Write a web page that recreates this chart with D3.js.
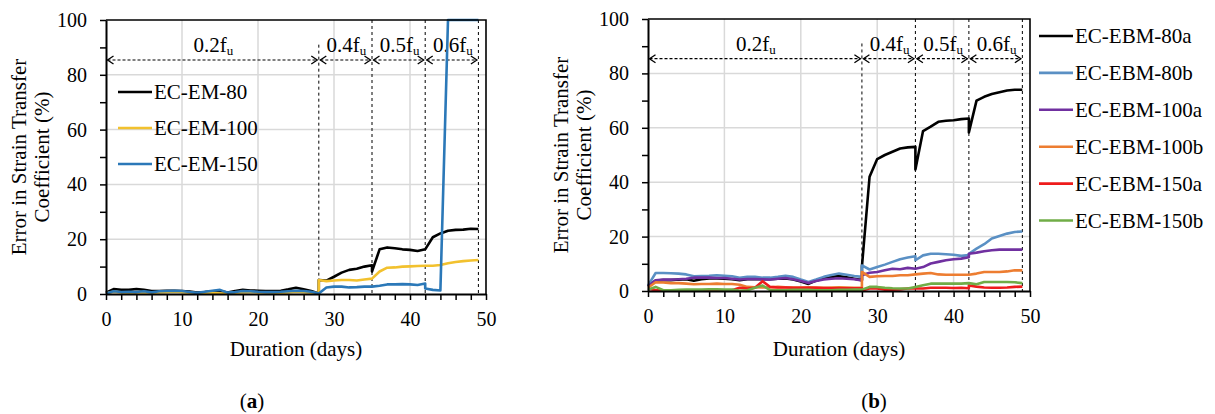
<!DOCTYPE html>
<html lang="en">
<head>
<meta charset="UTF-8">
<title>Error in Strain Transfer Coefficient</title>
<script src="https://d3js.org/d3.v7.min.js"></script>
</head>
<body style="margin:0; background:#fff">
<svg width="1215" height="414"></svg>
<script>
// days of each reading; 28, 35 and 42 appear twice for the jump at each new load step
const days = [0,1,2,3,4,5,6,7,8,9,10,11,12,13,14,15,16,17,18,19,20,21,22,23,24,25,26,27,
  28,28,29,30,31,32,33,34,35,35,36,37,38,39,40,41,42,42,43,44,45,46,47,48,49];

const xTicks = [0, 10, 20, 30, 40, 50];
const yTicks = [0, 20, 40, 60, 80, 100];

// load steps
const stageLabels = ["0.2", "0.4", "0.5", "0.6"];
const stageBounds = [0, 28, 35, 42, 49];

// panel (a)
const namesA = ["EC-EM-80", "EC-EM-100", "EC-EM-150"];
const em80 = [0.5,1.8,1.5,1.5,1.8,1.5,1.1,1.1,1.2,1.2,1.1,0.9,0.5,0.7,1.0,1.1,0.5,1.1,1.5,1.3,1.2,1.1,1.1,1.2,1.7,2.3,1.7,1.1,
  0.2,5.1,4.9,6.3,7.8,8.8,9.2,10.0,10.5,8.2,16.3,17.0,16.7,16.3,16.1,15.7,16.3,16.3,20.7,22.1,23.1,23.4,23.5,23.8,23.7];
const em100 = [0.3,0.8,0.6,0.5,0.6,0.7,0.5,0.6,0.7,0.8,0.7,0.5,0.3,0.3,0.4,0.2,0.3,0.5,0.6,0.7,0.6,0.6,0.5,0.5,0.6,0.8,0.7,0.5,
  0.3,5.1,4.7,4.9,5.1,5.1,4.9,5.3,5.6,5.6,8.2,9.6,9.7,10.0,10.1,10.2,10.3,10.3,10.3,10.6,11.2,11.7,12.0,12.2,12.4];
const em150 = [0.2,1.0,0.7,0.8,0.7,1.0,0.6,1.0,1.1,1.2,1.1,0.7,0.4,0.8,1.2,1.5,0.5,0.7,1.1,1.0,0.8,0.7,0.7,0.8,1.0,1.2,1.1,0.8,
  0.2,0.2,2.4,2.7,2.7,2.4,2.5,2.7,2.7,2.7,3.0,3.5,3.5,3.6,3.5,3.3,3.8,2.0,1.5,1.3,100,100,100,100,100];

// panel (b)
const namesB = ["EC-EBM-80a", "EC-EBM-80b", "EC-EBM-100a", "EC-EBM-100b", "EC-EBM-150a", "EC-EBM-150b"];
const ebm80a = [1.7,3.8,4.0,4.0,4.2,4.3,3.8,4.3,4.6,4.6,4.5,4.3,4.0,4.3,4.4,4.3,4.3,4.5,4.6,4.2,3.5,2.6,3.8,4.6,5.2,5.5,5.0,4.5,
  4.0,9.0,42.0,48.5,50.0,51.2,52.4,52.8,53.0,44.7,58.8,60.4,62.2,62.6,62.8,63.2,63.4,58.3,70.0,71.4,72.4,73.1,73.7,74.0,74.0];
const ebm80b = [2.0,6.6,6.6,6.5,6.4,6.1,5.4,5.5,5.6,5.8,5.6,5.4,4.9,5.2,5.2,4.9,4.9,5.2,5.6,5.2,4.2,3.3,4.2,5.2,5.9,6.4,6.0,5.5,
  5.2,9.4,7.9,8.8,9.7,10.7,11.7,12.3,12.8,11.3,13.1,13.7,13.7,13.5,13.3,12.9,13.2,13.7,15.6,17.2,19.3,20.2,21.1,21.7,21.9];
const ebm100a = [1.7,3.9,4.2,4.2,4.3,4.5,4.9,4.9,4.9,4.8,4.8,4.5,4.2,4.4,4.4,4.3,4.2,4.5,4.8,4.3,3.7,2.9,3.7,4.2,4.5,4.7,4.5,4.3,
  3.9,5.8,6.7,7.0,7.6,8.2,8.0,8.5,8.2,8.2,8.8,10.1,10.7,11.3,11.7,11.9,12.4,13.7,14.1,14.6,15.0,15.2,15.2,15.2,15.2];
const ebm100b = [1.2,3.2,3.1,2.9,2.9,2.7,2.5,2.6,2.6,2.7,2.6,2.6,2.3,1.5,1.4,1.3,1.4,1.5,1.4,1.3,1.3,1.4,1.3,1.2,1.3,1.4,1.3,1.2,
  1.2,7.0,5.2,5.4,5.5,5.5,5.8,5.8,6.1,6.1,6.4,6.6,6.1,6.0,6.0,6.0,6.0,6.0,6.4,7.0,7.0,7.0,7.2,7.6,7.6];
const ebm150a = [0.8,0.3,0.3,0.2,0.2,0.2,0.2,0.2,0.2,0.2,0.2,0.3,1.2,0.9,1.2,3.6,1.5,1.3,1.3,1.2,1.2,1.2,1.2,1.1,1.0,1.0,1.0,1.0,
  1.0,0.2,0.9,0.9,0.5,0.5,0.6,0.9,0.9,0.9,0.9,1.2,1.2,1.2,1.1,1.2,1.0,2.0,1.6,1.3,1.2,1.2,1.3,1.5,1.6];
const ebm150b = [0.5,1.5,0.3,0.3,0.4,0.5,0.5,0.5,0.6,0.6,0.5,0.5,0.1,0.3,1.2,2.0,0.3,0.3,0.3,0.4,0.4,0.4,0.3,0.3,0.3,0.4,0.4,0.5,
  0.5,0.5,1.5,1.5,1.2,1.0,0.9,0.9,1.5,1.5,2.1,2.7,2.7,2.7,2.7,2.7,2.9,2.9,2.5,3.3,3.3,3.3,3.3,3.2,2.9];

const FONT = "Liberation Serif";
const svg = d3.select("svg").attr("font-family", FONT);

// open chevron arrow head
svg.append("defs").append("marker")
  .attr("id", "chev")
  .attr("markerUnits", "userSpaceOnUse")
  .attr("markerWidth", 10).attr("markerHeight", 10)
  .attr("refX", 7).attr("refY", 5)
  .attr("orient", "auto-start-reverse")
  .append("path")
  .attr("d", "M1,1 L7,5 L1,9")
  .attr("fill", "none").attr("stroke", "#000").attr("stroke-width", 1.3);

function drawPanel(box, names, colors, series, legend, tag) {
  const x = d3.scaleLinear().domain([0, 50]).range([box.left, box.right]);
  const y = d3.scaleLinear().domain([0, 100]).range([box.bottom, box.top]);
  const g = svg.append("g").attr("font-family", FONT);

  // gridlines
  g.append("g").selectAll("line").data(xTicks.slice(1, -1)).join("line")
    .attr("x1", d => x(d)).attr("x2", d => x(d))
    .attr("y1", y(0)).attr("y2", y(100))
    .attr("stroke", "#d9d9d9").attr("stroke-width", 1.5);
  g.append("g").selectAll("line").data(yTicks.slice(1, -1)).join("line")
    .attr("x1", x(0)).attr("x2", x(50))
    .attr("y1", d => y(d)).attr("y2", d => y(d))
    .attr("stroke", "#d9d9d9").attr("stroke-width", 1.5);

  // load step boundaries
  g.append("g").selectAll("line").data(stageBounds.slice(1)).join("line")
    .attr("x1", d => x(d)).attr("x2", d => x(d))
    .attr("y1", (d, i) => y(i === 0 ? 91 : 100)).attr("y2", y(0))
    .attr("stroke", "#000").attr("stroke-width", 1).attr("stroke-dasharray", "3,3");

  // double arrows with stage labels
  const arrows = g.append("g");
  stageLabels.forEach((lab, i) => {
    const a = stageBounds[i], b = stageBounds[i + 1];
    arrows.append("line")
      .attr("x1", x(a) + 1.5).attr("x2", x(b) - 1.5)
      .attr("y1", y(85.4)).attr("y2", y(85.4))
      .attr("stroke", "#000").attr("stroke-width", 1.2).attr("stroke-dasharray", "3,2")
      .attr("marker-start", "url(#chev)").attr("marker-end", "url(#chev)");
    const t = arrows.append("text")
      .attr("x", x((a + b) / 2) + 1).attr("y", y(88.3))
      .attr("text-anchor", "middle").attr("font-size", 21);
    t.append("tspan").text(lab + "f");
    t.append("tspan").attr("dy", 3).attr("font-size", 13).text("u");
  });

  // series
  const line = d3.line().x((d, i) => x(days[i])).y(d => y(d));
  series.forEach((s, k) => {
    g.append("path").datum(s).attr("d", line)
      .attr("fill", "none").attr("stroke", colors[k])
      .attr("stroke-width", 2.6).attr("stroke-linejoin", "round");
  });

  // axes
  const ya = g.append("g").attr("transform", `translate(${x(0)},0)`)
    .call(d3.axisLeft(y).tickValues(d3.range(0, 101, 10))
      .tickSize(6).tickSizeOuter(0).tickPadding(13)
      .tickFormat(d => d % 20 ? "" : d));
  const xa = g.append("g").attr("transform", `translate(0,${y(0)})`)
    .call(d3.axisBottom(x).tickValues(d3.range(0, 51, 2))
      .tickSize(6).tickSizeOuter(0).tickPadding(12)
      .tickFormat(d => d % 10 ? "" : d));
  [ya, xa].forEach(a => {
    a.attr("font-family", FONT).attr("font-size", 20);
    a.select(".domain").attr("stroke", "#000").attr("stroke-width", 2);
    a.selectAll(".tick line").attr("stroke", "#000").attr("stroke-width", 1.5);
    a.selectAll(".tick text").attr("fill", "#000");
  });

  // plot border top and right
  g.append("path")
    .attr("d", `M${x(0)},${y(100)}H${x(50)}V${y(0)}`)
    .attr("fill", "none").attr("stroke", "#000").attr("stroke-width", 1.6);

  // axis titles
  const cy = (box.top + box.bottom) / 2;
  g.append("text")
    .attr("transform", `translate(${x(0) - 80},${cy}) rotate(-90)`)
    .attr("text-anchor", "middle").attr("font-size", 21)
    .text("Error in Strain Transfer");
  g.append("text")
    .attr("transform", `translate(${x(0) - 57},${cy}) rotate(-90)`)
    .attr("text-anchor", "middle").attr("font-size", 21)
    .text("Coefficient (%)");
  g.append("text")
    .attr("x", (box.left + box.right) / 2).attr("y", 356)
    .attr("text-anchor", "middle").attr("font-size", 21)
    .text("Duration (days)");

  // panel tag
  const pt = g.append("text")
    .attr("x", tag.x).attr("y", 408)
    .attr("text-anchor", "middle").attr("font-size", 21);
  pt.append("tspan").text("(");
  pt.append("tspan").attr("font-weight", "bold").text(tag.label);
  pt.append("tspan").text(")");

  // legend
  const lg = g.append("g");
  names.forEach((n, i) => {
    const ly = legend.y + i * legend.dy;
    lg.append("line")
      .attr("x1", legend.x).attr("x2", legend.x + 34)
      .attr("y1", ly).attr("y2", ly)
      .attr("stroke", colors[i]).attr("stroke-width", 2.6);
    lg.append("text")
      .attr("x", legend.x + 36).attr("y", ly + 7)
      .attr("font-size", 21).text(n);
  });
}

drawPanel(
  { left: 106, right: 486, top: 20, bottom: 294 },
  namesA,
  ["#000000", "#f2c12e", "#2b78b8"],
  [em80, em100, em150],
  { x: 118, y: 92, dy: 36 },
  { x: 252, label: "a" }
);

drawPanel(
  { left: 648, right: 1030, top: 19, bottom: 291 },
  namesB,
  ["#000000", "#5a90c4", "#7030a0", "#ed7d31", "#ee1c1c", "#70ad47"],
  [ebm80a, ebm80b, ebm100a, ebm100b, ebm150a, ebm150b],
  { x: 1039, y: 36, dy: 36.9 },
  { x: 874, label: "b" }
);
</script>
</body>
</html>
